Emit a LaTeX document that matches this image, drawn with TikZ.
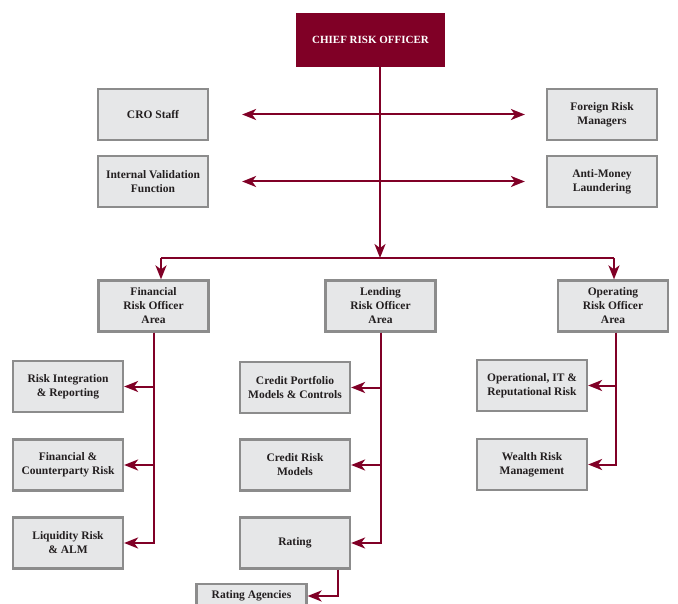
\documentclass[tikz,border=0pt]{standalone}
\usepackage{fontspec}
\setmainfont{Liberation Serif}
\usepackage{xcolor}
\usetikzlibrary{arrows.meta}
\definecolor{garnet}{HTML}{800026}
\definecolor{boxgrey}{HTML}{E6E7E8}
\definecolor{edgegrey}{HTML}{8C8C8C}
\definecolor{ink}{HTML}{231F20}

\begin{document}
\begin{tikzpicture}[x=1pt, y=-1pt,
    unit/.style={draw=edgegrey, line width=2.2pt, fill=boxgrey, text=ink,
        minimum width=110pt, minimum height=51pt, align=center,
        font=\bfseries\fontsize{11.5}{14}\selectfont},
    link/.style={draw=garnet, line width=2pt},
    tip/.style={-{Stealth[length=14pt, width=11pt, inset=4pt]}},
    tips/.style={{Stealth[length=14pt, width=11pt, inset=4pt]}-{Stealth[length=14pt, width=11pt, inset=4pt]}}]
\clip (0,0) rectangle (678,604);

% Chief risk officer
\node[fill=garnet, text=white, minimum width=149pt, minimum height=54pt,
    font=\bfseries\fontsize{11}{14}\selectfont] (cro) at (370.5,40) {CHIEF RISK OFFICER};

% Staff functions
\node[unit] (stf) at (153,114.5) {CRO Staff};
\node[unit] (ivf) at (153,181.5) {Internal Validation\\Function};
\node[unit] (frm) at (602,114.5) {Foreign Risk\\Managers};
\node[unit] (aml) at (602,181.5) {Anti-Money\\Laundering};

% Risk officer areas
\node[unit] (fin) at (153.5,306) {Financial\\Risk Officer\\Area};
\node[unit] (lnd) at (380.5,306) {Lending\\Risk Officer\\Area};
\node[unit] (opr) at (613,306) {Operating\\Risk Officer\\Area};

% Financial units
\node[unit] (rin) at (68,386.5) {Risk Integration\\\& Reporting};
\node[unit] (fcr) at (68,465) {Financial \&\\Counterparty Risk};
\node[unit] (liq) at (68,543) {Liquidity Risk\\\& ALM};

% Lending units
\node[unit] (cpm) at (295,387.5) {Credit Portfolio\\Models \& Controls};
\node[unit] (crm) at (295,465) {Credit Risk\\Models};
\node[unit] (rat) at (295,543) {Rating};
\node[unit, minimum height=24pt] (agn) at (251.5,596) {Rating Agencies};

% Operating units
\node[unit] (opi) at (532,385.5) {Operational, IT \&\\Reputational Risk};
\node[unit] (wea) at (532,464.5) {Wealth Risk\\Management};

% Connectors
\coordinate (hub) at (380,258);
\coordinate (hubl) at (161,258);
\coordinate (hubr) at (614,258);
\draw[link, tip] (cro.south -| hub) -- (hub);
\draw[link, tips] ([xshift=33pt]stf.east) -- ([xshift=-21pt]frm.west);
\draw[link, tips] ([xshift=33pt]ivf.east) -- ([xshift=-21pt]aml.west);
\draw[link] (hubl) -- (hubr);
\draw[link, tip] (hubl) -- (hubl |- fin.north);
\draw[link, tip] (hubr) -- (hubr |- opr.north);
\foreach \n in {rin,fcr,liq} {
    \draw[link, tip] (fin.south) |- (\n.east);
}
\foreach \n in {cpm,crm,rat} {
    \draw[link, tip] (lnd.south) |- (\n.east);
}
\foreach \n in {opi,wea} {
    \draw[link, tip] ([xshift=3pt]opr.south) |- (\n.east);
}
\draw[link, tip] ([xshift=-13pt]rat.south east) |- (agn.east);
\end{tikzpicture}
\end{document}
